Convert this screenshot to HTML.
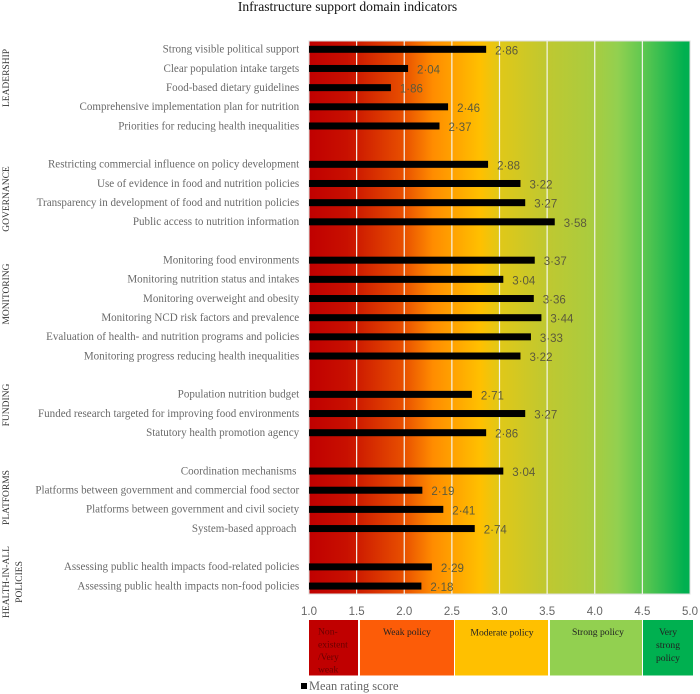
<!DOCTYPE html>
<html><head><meta charset="utf-8">
<style>
html,body{margin:0;padding:0;background:#fff;width:700px;height:694px;overflow:hidden}
svg{display:block}
text{font-family:"Liberation Serif",serif}
.cat{font-size:11.05px;fill:#6a6a6a;text-anchor:end}
.val{font-family:"Liberation Sans",sans-serif;font-size:11.5px;fill:#5c5a3c}
.tick{font-family:"Liberation Sans",sans-serif;font-size:11.5px;fill:#666;text-anchor:middle}
.grp{font-size:9.5px;fill:#333;text-anchor:middle}
.band{font-size:9.6px;fill:#222;text-anchor:middle}
.band-left{font-size:9.6px;fill:#6a0000;text-anchor:start}
</style></head>
<body>
<svg id="chart" width="700" height="694" viewBox="0 0 700 694" xmlns="http://www.w3.org/2000/svg">
<defs>
<linearGradient id="bg" x1="0" x2="1" y1="0" y2="0">
<stop offset="0" stop-color="#c00000"/>
<stop offset="0.1" stop-color="#c81000"/>
<stop offset="0.25" stop-color="#e85000"/>
<stop offset="0.325" stop-color="#ff8c00"/>
<stop offset="0.45" stop-color="#ffc000"/>
<stop offset="0.5" stop-color="#e0c818"/>
<stop offset="0.62" stop-color="#c0c830"/>
<stop offset="0.75" stop-color="#a8cc40"/>
<stop offset="0.81" stop-color="#92d050"/>
<stop offset="0.875" stop-color="#60c850"/>
<stop offset="0.985" stop-color="#00b050"/>
<stop offset="1" stop-color="#00b050"/>
</linearGradient>
</defs>
<text x="347.5" y="11" font-size="13.6" fill="#111" text-anchor="middle">Infrastructure support domain indicators</text>
<rect x="309" y="41" width="381" height="553" fill="url(#bg)" stroke="#ddd" stroke-width="1"/>
<g id="grid"></g><g id="bars"></g><g id="ticks"></g>

<text class="grp" transform="translate(9,78) rotate(-90)">LEADERSHIP</text>
<text class="grp" transform="translate(9,199) rotate(-90)">GOVERNANCE</text>
<text class="grp" transform="translate(9,294) rotate(-90)">MONITORING</text>
<text class="grp" transform="translate(9,405) rotate(-90)">FUNDING</text>
<text class="grp" transform="translate(9,497.5) rotate(-90)">PLATFORMS</text>
<text class="grp" transform="translate(9,582) rotate(-90)">HEALTH-IN-ALL</text>
<text class="grp" transform="translate(22,582) rotate(-90)">POLICIES</text>

<rect x="309" y="620" width="49" height="55.5" fill="#c00000"/>
<rect x="360" y="620" width="94" height="55.5" fill="#fc5c08"/>
<rect x="455" y="620" width="93" height="55.5" fill="#ffc000"/>
<rect x="550" y="620" width="92" height="55.5" fill="#92d050"/>
<rect x="643" y="620" width="50" height="55.5" fill="#00b050"/>
<g>
<text class="band-left" x="318" y="634.5">Non-</text>
<text class="band-left" x="318" y="647.5">existent</text>
<text class="band-left" x="318" y="660">/Very</text>
<text class="band-left" x="318" y="672.5">weak</text>
</g>
<text class="band" x="407" y="635">Weak policy</text>
<text class="band" x="502" y="635.5">Moderate policy</text>
<text class="band" x="598" y="635">Strong policy</text>
<g>
<text class="band" x="668" y="635">Very</text>
<text class="band" x="668" y="648">strong</text>
<text class="band" x="668" y="661">policy</text>
</g>
<rect x="301" y="683" width="6" height="6" fill="#000"/>
<text x="309" y="690" font-size="12.4" fill="#666">Mean rating score</text>
</svg>
<script>
const categories = ["Strong visible political support","Clear population intake targets","Food-based dietary guidelines","Comprehensive implementation plan for nutrition","Priorities for reducing health inequalities","","Restricting commercial influence on policy development","Use of evidence in food and nutrition policies","Transparency in development of food and nutrition policies","Public access to nutrition information","","Monitoring food environments","Monitoring nutrition status and intakes","Monitoring overweight and obesity","Monitoring NCD risk factors and prevalence","Evaluation of health- and nutrition programs and policies","Monitoring progress reducing health inequalities","","Population nutrition budget","Funded research targeted for improving food environments","Statutory health promotion agency","","Coordination mechanisms ","Platforms between government and commercial food sector","Platforms between government and civil society","System-based approach ","","Assessing public health impacts food-related policies","Assessing public health impacts non-food policies"];
const meanScores = [2.86,2.04,1.86,2.46,2.37,null,2.88,3.22,3.27,3.58,null,3.37,3.04,3.36,3.44,3.33,3.22,null,2.71,3.27,2.86,null,3.04,2.19,2.41,2.74,null,2.29,2.18];
const xTicks = [1.0,1.5,2.0,2.5,3.0,3.5,4.0,4.5,5.0];

const NS = 'http://www.w3.org/2000/svg';
const xScale = v => 309 + (v - 1) * 95.25;
const yScale = i => 49.3 + i * 19.17;
function make(tag, attrs, parent, txt) {
  const el = document.createElementNS(NS, tag);
  for (const k in attrs) el.setAttribute(k, attrs[k]);
  if (txt !== undefined) el.textContent = txt;
  parent.appendChild(el);
  return el;
}
const grid = document.getElementById('grid');
const bars = document.getElementById('bars');
const ticks = document.getElementById('ticks');
xTicks.forEach(t => {
  if (t > 1 && t < 5) {
    const g = make('line', {x1: xScale(t), x2: xScale(t), y1: 41, y2: 594, stroke: '#f4f4ec', 'stroke-width': 1.2}, grid);
    
    
  }
  const l = make('text', {x: xScale(t), y: 615, class: 'tick'}, ticks, t.toFixed(1));
  
  
});
categories.forEach((c, i) => {
  const v = meanScores[i];
  if (v === null) return;
  const y = yScale(i);
  const lab = make('text', {x: 299.2, y: y + 3.3, class: 'cat'}, bars, c);
  lab.style.whiteSpace = 'pre';
  
  
  const b = make('rect', {x: xScale(1), y: y - 3.5, width: xScale(v) - xScale(1), height: 7, fill: '#000'}, bars);
  
  
  const t = make('text', {x: xScale(v) + 9, y: y + 5, class: 'val'}, bars, v.toFixed(2).replace('.', '\u00B7'));
  
  
});
</script>
</body></html>
